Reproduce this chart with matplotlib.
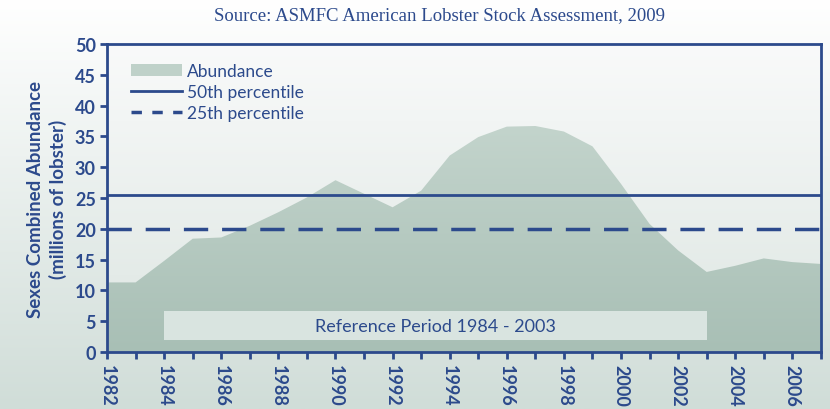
"""
American lobster abundance chart (ASMFC 2009 stock assessment)
"""
import numpy as np
import matplotlib
matplotlib.use('Agg')
import matplotlib.pyplot as plt
from matplotlib.colors import LinearSegmentedColormap
from matplotlib.patches import Patch, Rectangle
from matplotlib.lines import Line2D

# data
years = list(range(1982, 2008))
abundance = [11.3, 11.3, 14.8, 18.4, 18.6, 20.5, 22.7, 25.1, 27.9, 25.7,
             23.5, 26.2, 31.9, 34.9, 36.6, 36.7, 35.8, 33.4, 27.3, 20.8,
             16.5, 13.0, 14.0, 15.2, 14.6, 14.3]
pct50 = 25.5
pct25 = 20.0
ref_start, ref_end = 1984, 2003
tick_years = list(range(1982, 2008, 2))

navy = '#2c4a8c'
plt.rcParams['font.family'] = ['Lato', 'DejaVu Sans']

fig = plt.figure(figsize=(8.3, 4.1), dpi=100)

# figure background gradient
bg = fig.add_axes([0, 0, 1, 1], zorder=-10)
bg_cmap = LinearSegmentedColormap.from_list('bg', ['#ffffff', '#d0ddd8'])
bg.imshow(np.linspace(0, 1, 256).reshape(-1, 1), aspect='auto', cmap=bg_cmap,
          extent=[0, 1, 0, 1], origin='upper')
bg.axis('off')

ax = fig.add_axes([0.129, 0.139, 0.860, 0.751])
ax.patch.set_alpha(0)

# plot area gradient
area_cmap = LinearSegmentedColormap.from_list('area', ['#f9fafa', '#dde6e2'])
ax.imshow(np.linspace(0, 1, 256).reshape(-1, 1), aspect='auto', cmap=area_cmap,
          extent=[1982, 2007, 0, 50], origin='upper', zorder=0)

# abundance area with gradient fill
poly = ax.fill_between(years, abundance, 0, color='none', lw=0, zorder=1)
fill_cmap = LinearSegmentedColormap.from_list('fill', ['#c3d4cc', '#a8bfb5'])
im = ax.imshow(np.linspace(0, 1, 256).reshape(-1, 1), aspect='auto', cmap=fill_cmap,
               extent=[1982, 2007, 0, max(abundance)], origin='upper', zorder=1)
im.set_clip_path(poly.get_paths()[0], transform=ax.transData)

ax.set_xlim(1982, 2007)
ax.set_ylim(0, 50)

# reference period box
ax.add_patch(Rectangle((ref_start, 2.0), ref_end - ref_start, 4.6,
                       facecolor='#d9e4e0', edgecolor='none', zorder=2))
ax.text((ref_start + ref_end) / 2, 4.3, 'Reference Period 1984 - 2003',
        ha='center', va='center', color=navy, fontsize=13, zorder=3)

ax.axhline(pct50, color=navy, lw=2, zorder=3)
ax.axhline(pct25, color=navy, lw=2.5, dashes=(7, 4), zorder=3)

for s in ax.spines.values():
    s.set_color(navy)
    s.set_linewidth(2)
    s.set_zorder(4)

ax.set_yticks(range(0, 51, 5))
ax.set_xticks(years)
ax.set_xticklabels([str(y) if y in tick_years else '' for y in years],
                   rotation=270, fontweight='bold')
ax.tick_params(axis='both', colors=navy, labelcolor=navy, width=2, length=5,
               labelsize=13, direction='out')
ax.tick_params(axis='y', pad=3)
for lbl in ax.get_yticklabels():
    lbl.set_fontweight('bold')

ax.set_ylabel('Sexes Combined Abundance\n(millions of lobster)', color=navy,
              fontsize=13.5, fontweight='bold', labelpad=6, linespacing=1.3)

handles = [Patch(facecolor='#bfd1c9', edgecolor='none', label='Abundance'),
           Line2D([], [], color=navy, lw=2, label='50th percentile'),
           Line2D([], [], color=navy, lw=2.5, dashes=(3, 3), label='25th percentile')]
leg = ax.legend(handles=handles, loc='upper left', frameon=False, fontsize=12.5,
                handlelength=2.9, handletextpad=0.3, labelspacing=0.3,
                bbox_to_anchor=(0.012, 0.99), labelcolor=navy)

fig.text(0.53, 0.962, 'Source: ASMFC American Lobster Stock Assessment, 2009',
         ha='center', va='center', color=navy, fontsize=13.5,
         family=['Liberation Serif', 'DejaVu Serif'])

fig.savefig('out.png', dpi=100)
